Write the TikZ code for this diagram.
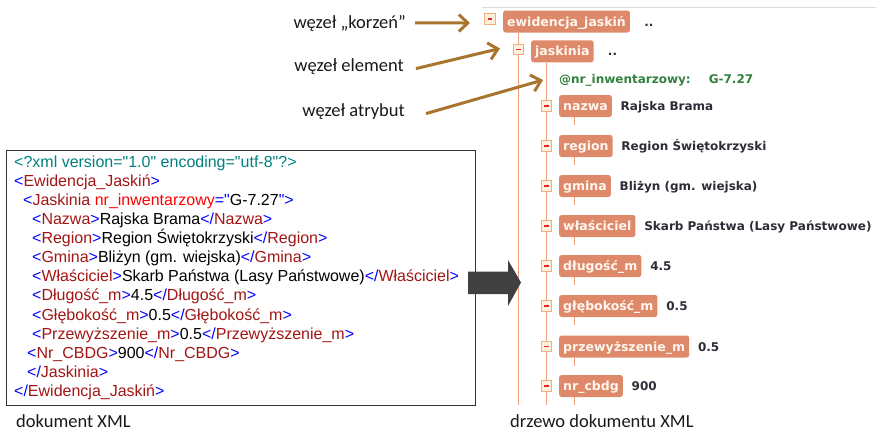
\documentclass[tikz,border=0pt]{standalone}
\usepackage{fontspec}
\setmainfont{Liberation Sans}
\newfontfamily\xmlfont{Liberation Sans}
\newfontfamily\treefont{DejaVu Sans}
\newfontfamily\labelfont{Carlito}
\usetikzlibrary{arrows.meta,calc,backgrounds}

% tree view colours
\definecolor{tagfill}{RGB}{222,138,106}
\definecolor{tagtext}{RGB}{255,246,240}
\definecolor{treeline}{RGB}{240,160,125}
\definecolor{minusfill}{RGB}{255,240,220}
\definecolor{minusdraw}{RGB}{240,175,130}
\definecolor{minusred}{RGB}{225,40,40}
\definecolor{valgray}{RGB}{45,45,55}
\definecolor{attrgreen}{RGB}{50,128,60}
\definecolor{rulegray}{RGB}{220,220,220}
% callouts
\definecolor{pointercol}{RGB}{168,116,46}
\definecolor{bigarrowcol}{RGB}{64,64,64}
% XML syntax colours
\definecolor{xmldecl}{RGB}{0,128,128}
\definecolor{xmlbr}{RGB}{0,0,255}
\definecolor{xmltag}{RGB}{163,21,21}
\definecolor{xmlattr}{RGB}{255,0,0}

\newcommand\xbr[1]{\textcolor{xmlbr}{#1}}
\newcommand\xtg[1]{\textcolor{xmltag}{#1}}

\begin{document}
\begin{tikzpicture}[x=1pt,y=-1pt,
  tagbox/.style={anchor=west, fill=tagfill, rounded corners=2.5pt, text=tagtext,
    font=\treefont\bfseries\fontsize{12.5}{15}\selectfont,
    inner xsep=4pt, inner ysep=0pt, text height=9pt, text depth=0pt, minimum height=22pt},
  valtext/.style={anchor=base west, inner sep=0pt, text=valgray,
    font=\treefont\bfseries\fontsize{12}{14}\selectfont},
  attrtext/.style={anchor=base west, inner sep=0pt, text=attrgreen,
    font=\treefont\bfseries\fontsize{12}{14}\selectfont},
  minusbox/.style={draw=minusdraw, fill=minusfill, minimum size=10.5pt, inner sep=0pt,
    line width=0.6pt,
    path picture={\draw[minusred,line width=1.4pt]
      ([xshift=-2.2pt]path picture bounding box.center) --
      ([xshift=2.2pt]path picture bounding box.center);}},
  treeln/.style={draw=treeline, line width=1.2pt},
  lbl/.style={anchor=base east, inner sep=0pt, text=black!90,
    font=\labelfont\fontsize{18.5}{22}\selectfont},
  caption/.style={anchor=base west, inner sep=0pt, text=black!90,
    font=\labelfont\fontsize{18.5}{22}\selectfont},
  pointer/.style={draw=pointercol, line width=3pt,
    -{Straight Barb[length=9pt,width=17pt]}},
  xmlpanel/.style={draw=black!80, line width=1.4pt, minimum width=469pt,
    minimum height=255pt, inner sep=0pt},
  xmlline/.style={anchor=base west, inner sep=0pt,
    font=\xmlfont\fontsize{16}{19}\selectfont}
]
\useasboundingbox (0,0) rectangle (876,432);

% thin rule above the tree view
\draw[rulegray, line width=1.5pt] (482,7.5) -- (876,7.5);

% ---------- XML source panel ----------
\node[xmlpanel] (xmlbox) at (240.9,277.8) {};
\node[xmlline] (x1)  at (14,167.5) {\textcolor{xmldecl}{<?xml version="1.0" encoding="utf-8"?>}};
\node[xmlline] (x2)  at (14,186.6) {\xbr{<}\xtg{Ewidencja\_Jaskiń}\xbr{>}};
\node[xmlline] (x3)  at (23,205.6) {\xbr{<}\xtg{Jaskinia} \textcolor{xmlattr}{nr\_inwentarzowy}\xbr{="}G-7.27\xbr{">}};
\node[xmlline] (x4)  at (32,224.7) {\xbr{<}\xtg{Nazwa}\xbr{>}Rajska Brama\xbr{</}\xtg{Nazwa}\xbr{>}};
\node[xmlline] (x5)  at (32,243.7) {\xbr{<}\xtg{Region}\xbr{>}Region Świętokrzyski\xbr{</}\xtg{Region}\xbr{>}};
\node[xmlline] (x6)  at (32,262.8) {\xbr{<}\xtg{Gmina}\xbr{>}Bliżyn (gm. wiejska)\xbr{</}\xtg{Gmina}\xbr{>}};
\node[xmlline] (x7)  at (32,281.9) {\xbr{<}\xtg{Właściciel}\xbr{>}Skarb Państwa (Lasy Państwowe)\xbr{</}\xtg{Właściciel}\xbr{>}};
\node[xmlline] (x8)  at (32,300.9) {\xbr{<}\xtg{Długość\_m}\xbr{>}4.5\xbr{</}\xtg{Długość\_m}\xbr{>}};
\node[xmlline] (x9)  at (32,320.0) {\xbr{<}\xtg{Głębokość\_m}\xbr{>}0.5\xbr{</}\xtg{Głębokość\_m}\xbr{>}};
\node[xmlline] (x10) at (32,339.0) {\xbr{<}\xtg{Przewyższenie\_m}\xbr{>}0.5\xbr{</}\xtg{Przewyższenie\_m}\xbr{>}};
\node[xmlline] (x11) at (27,358.1) {\xbr{<}\xtg{Nr\_CBDG}\xbr{>}900\xbr{</}\xtg{Nr\_CBDG}\xbr{>}};
\node[xmlline] (x12) at (27,377.2) {\xbr{</}\xtg{Jaskinia}\xbr{>}};
\node[xmlline] (x13) at (14,396.2) {\xbr{</}\xtg{Ewidencja\_Jaskiń}\xbr{>}};

% big transformation arrow
\fill[bigarrowcol] (468,271.5) -- (508,271.5) -- (508,260) -- (521,282.5)
  -- (508,306) -- (508,294) -- (468,294) -- cycle;

% ---------- tree view ----------
\node[minusbox] (m0) at (490,19) {};
\node[tagbox] (root) at (503,21.5) {ewidencja\_jaskiń};
\node[valtext] (d0) at ($(root.base east)+(14,0)$) {..};

\node[minusbox] (mj) at (518.5,49.5) {};
\node[tagbox] (jas) at (531,51.3) {jaskinia};
\node[valtext] (dj) at ($(jas.base east)+(14,0)$) {..};

\node[attrtext] (attr) at (559,83.5) {@nr\_inwentarzowy:\hspace{18pt}G-7.27};

\foreach \tg/\val/\y [count=\i] in {
    nazwa/Rajska Brama/106,
    region/Region Świętokrzyski/146,
    gmina/Bliżyn (gm. wiejska)/186,
    właściciel/Skarb Państwa (Lasy Państwowe)/226,
    długość\_m/4.5/266,
    głębokość\_m/0.5/306,
    przewyższenie\_m/0.5/346.5,
    nr\_cbdg/900/386} {
  \node[minusbox] (m\i) at (546.5,\y) {};
  \node[tagbox] (c\i) at (559,\y) {\tg};
  \node[valtext] (v\i) at ($(c\i.base east)+(8.5,0)$) {\val};
}

\coordinate (rootEnd) at (518.5,405);
\coordinate (jasEnd) at (546.5,405);

\begin{scope}[on background layer]
  \draw[treeln] ($(root.south west)+(15.5,0)$) -- (rootEnd);
  \draw[treeln] ($(jas.south west)+(15.5,0)$) -- (jasEnd);
  \foreach \i in {1,...,8}
    \draw[treeln] ($(c\i.south west)+(15.5,0)$) -- ++(0,8);
\end{scope}

% ---------- callouts ----------
\node[lbl] (lk) at (406,28) {węzeł „korzeń”};
\node[lbl] (le) at (404,71.5) {węzeł element};
\node[lbl] (la) at (405,116.5) {węzeł atrybut};
\coordinate (tk) at (470,23);
\coordinate (te) at (500,48.5);
\coordinate (ta) at (543,80);
\draw[pointer] ([xshift=9pt]lk.east) -- (tk);
\draw[pointer] ([xshift=12pt,yshift=-2pt]le.east) -- (te);
\draw[pointer] ([xshift=21pt,yshift=-2pt]la.east) -- (ta);

% ---------- captions ----------
\node[caption] (capL) at (16,427.5) {dokument XML};
\node[caption] (capR) at (510,427.5) {drzewo dokumentu XML};
\end{tikzpicture}
\end{document}
